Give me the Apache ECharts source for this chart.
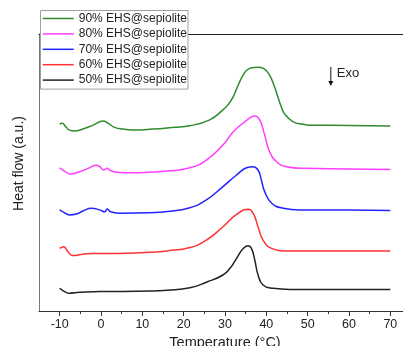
<!DOCTYPE html>
<html>
<head>
<meta charset="utf-8">
<script src="https://cdn.jsdelivr.net/npm/echarts@6/dist/echarts.min.js"></script>
<style>
  html, body { margin: 0; padding: 0; background: #fff; }
  #chart { width: 403px; height: 346px; }
</style>
</head>
<body>
<div id="chart"></div>
<script>
// DSC heating curves, stacked with vertical offsets (heat flow in arbitrary units)
const seriesNames = ['90% EHS@sepiolite', '80% EHS@sepiolite', '70% EHS@sepiolite', '60% EHS@sepiolite', '50% EHS@sepiolite'];
const seriesColors = ['#2e8b2e', '#ff3cff', '#2424ff', '#ff3232', '#222222'];

// [temperature °C, heat flow a.u.]
const ehs90 = [[-10,67.5],[-9.4,67.8],[-8.5,66.5],[-7.6,65.3],[-6.4,65.0],[-4.4,65.7],[-1.9,67.1],[0.5,68.6],[1.7,67.8],[3.3,66.3],[5.3,65.7],[8.6,65.3],[11.8,65.6],[16,66.1],[21.5,66.9],[26.3,69.0],[29.5,72.6],[30.8,74.6],[32,77.4],[33.2,81.6],[34.4,85.2],[35.3,87.0],[36.5,87.8],[38,88.0],[39.4,87.5],[40.6,85.6],[41.6,82.4],[42.6,78.2],[43.5,74.2],[44.5,71.0],[46.5,68.3],[48.9,67.4],[50.5,67.1],[60,67.0],[70,66.8]];
const ehs80 = [[-10,51.7],[-9.2,50.9],[-8,49.7],[-7.2,49.5],[-5.2,50.3],[-3.1,51.5],[-1.1,52.6],[-0.3,52.1],[0.65,50.9],[1.5,51.5],[2.1,50.9],[3.7,50.1],[7,49.9],[11.8,50.1],[16,50.5],[21.5,51.7],[25.5,54.5],[29.5,59.9],[32,64.7],[34.8,68.3],[37.2,70.4],[38.4,69.0],[39.6,63.5],[40.8,57.5],[42.5,53.9],[44.9,52.1],[48.9,51.5],[60,51.3],[70,51.1]];
const ehs70 = [[-10,36.5],[-9.2,35.8],[-7.6,34.7],[-6,35.0],[-4.4,36.1],[-2.3,37.1],[-0.3,36.5],[0.9,35.8],[1.5,36.8],[2.3,35.8],[4.5,35.3],[11.8,35.5],[16,35.9],[21.5,37.3],[25.5,40.1],[29.5,44.9],[32.8,49.1],[35.2,51.7],[36.8,52.1],[38,50.9],[38.8,47.3],[39.6,43.1],[41.3,38.9],[44.1,37.1],[48.1,36.5],[60,36.5],[70,36.3]];
const ehs60 = [[-10,22.6],[-9,23.2],[-8,21.4],[-6.8,20.0],[-4.4,20.5],[-1.9,20.8],[3.7,20.8],[11.8,21.2],[16,21.7],[21.5,22.9],[25.5,25.6],[29.5,30.4],[32.8,34.9],[35.6,36.7],[36.8,35.3],[38,30.4],[39.2,25.6],[41.3,22.6],[44.9,21.7],[60,21.7],[70,21.7]];
const ehs50 = [[-10,8.2],[-8.8,7.0],[-7.6,6.4],[-5.2,6.8],[-0.3,7.0],[11.8,7.2],[16,7.5],[21.5,8.4],[25.5,10.4],[29.5,13.0],[31.2,15.4],[32.8,19.0],[34.4,22.6],[35.6,23.6],[36.4,22.6],[37.2,18.4],[38,13.0],[39.2,9.4],[41.6,8.2],[45.7,7.8],[70,7.8]];
const seriesData = [ehs90, ehs80, ehs70, ehs60, ehs50];

// temperature axis ticks
const majorTicks = [-10, 0, 10, 20, 30, 40, 50, 60, 70];
const minorTicks = [-5, 5, 15, 25, 35, 45, 55, 65];

// exothermic direction marker position (°C, a.u.)
const exoMarker = [55.6, 85.6];

const font = 'Liberation Sans, Arial, sans-serif';
const chart = echarts.init(document.getElementById('chart'), null, { renderer: 'canvas' });

const baseX = { type: 'value', min: -15, max: 75, splitLine: { show: false } };

chart.setOption({
  animation: false,
  backgroundColor: '#fff',
  grid: { left: 39, right: -8, top: 34, bottom: 35, outerBoundsMode: 'none', containLabel: false },
  legend: {
    orient: 'vertical',
    left: 40.5, top: 10.5,
    data: seriesNames,
    backgroundColor: '#fff',
    borderColor: '#a0a0a0',
    borderWidth: 1,
    borderRadius: 0,
    padding: [2, 1, 3, 1.5],
    itemWidth: 31, itemHeight: 14, itemGap: 3.4,
    itemStyle: { opacity: 0 },
    lineStyle: { width: 1.5 },
    textStyle: { fontFamily: font, fontSize: 12, color: '#222' }
  },
  xAxis: [
    Object.assign({}, baseX, {
      position: 'bottom',
      axisLine: { show: true, onZero: false, lineStyle: { color: '#333', width: 1 } },
      axisTick: { show: true, customValues: majorTicks, length: 5, lineStyle: { color: '#333', width: 1 } },
      axisLabel: { show: true, customValues: majorTicks, margin: 7, fontFamily: font, fontSize: 12.5, color: '#222' },
      name: 'Temperature (°C)', nameLocation: 'middle', nameGap: 23,
      nameTextStyle: { fontFamily: font, fontSize: 14.5, color: '#222' }
    }),
    Object.assign({}, baseX, {
      position: 'bottom',
      axisLine: { show: false, onZero: false },
      axisTick: { show: true, customValues: minorTicks, length: 3, lineStyle: { color: '#333', width: 1 } },
      axisLabel: { show: false }
    }),
    Object.assign({}, baseX, {
      position: 'top',
      axisLine: { show: true, onZero: false, lineStyle: { color: '#222', width: 1 } },
      axisTick: { show: false },
      axisLabel: { show: false }
    })
  ],
  yAxis: {
    type: 'value', min: 0, max: 100,
    axisLine: { show: true, onZero: false, lineStyle: { color: '#777', width: 1 } },
    axisTick: { show: false },
    axisLabel: { show: false },
    splitLine: { show: false },
    name: 'Heat flow (a.u.)', nameLocation: 'middle', nameGap: 13,
    nameTextStyle: { fontFamily: font, fontSize: 14, color: '#222', padding: [0, 0, 0, 18] }
  },
  series: seriesNames.map((name, i) => ({
    name: name,
    type: 'line',
    xAxisIndex: 0,
    data: seriesData[i],
    smooth: 0.5,
    symbol: 'none',
    lineStyle: { color: seriesColors[i], width: 1.5 },
    itemStyle: { color: seriesColors[i] }
  }))
});

// "Exo" arrow annotation
const p = chart.convertToPixel({ xAxisIndex: 0, yAxisIndex: 0 }, exoMarker);
chart.setOption({
  graphic: [{
    type: 'group', x: p[0], y: p[1],
    children: [
      { type: 'line', shape: { x1: 0, y1: -7, x2: 0, y2: 8 }, style: { stroke: '#111', lineWidth: 1 } },
      { type: 'polygon', shape: { points: [[-2.5, 7], [2.5, 7], [0, 12]] }, style: { fill: '#111' } },
      { type: 'text', x: 6, y: 0, style: { text: 'Exo', fontFamily: font, fontSize: 13, fill: '#222', verticalAlign: 'middle' } }
    ]
  }]
});
</script>
</body>
</html>
